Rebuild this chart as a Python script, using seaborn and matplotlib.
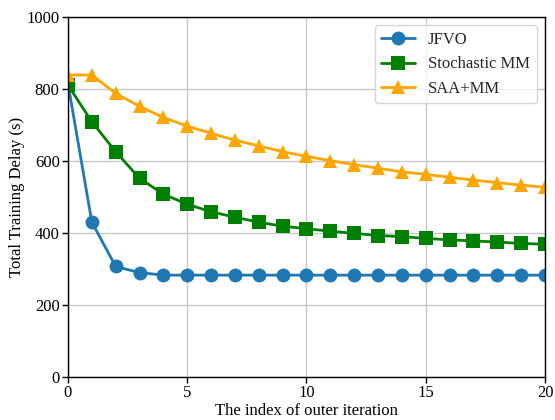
import matplotlib
matplotlib.use("Agg")
import matplotlib.pyplot as plt
import seaborn as sns
import pandas as pd

iterations = list(range(21))
jfvo = [815, 430, 307, 290, 283, 283, 283, 283, 283, 283, 283, 283, 283, 283, 283, 283, 283, 283, 283, 283, 283]
stochastic_mm = [811, 709, 626, 552, 508, 480, 459, 444, 430, 419, 412, 405, 399, 393, 390, 385, 381, 378, 375, 371, 369]
saa_mm = [839, 839, 788, 752, 721, 697, 677, 658, 642, 626, 613, 601, 590, 580, 570, 563, 555, 547, 540, 533, 527]
labels = ["JFVO", "Stochastic MM", "SAA+MM"]
colors = ["#1f77b4", "green", "orange"]
markers = ["o", "s", "^"]

sns.set_theme(style="ticks")
plt.rcParams["font.family"] = ["Liberation Serif", "DejaVu Serif"]

fig = plt.figure(figsize=(5.55, 4.2), dpi=100)
ax = fig.add_axes([0.1225, 0.1024, 0.8595, 0.857])

for lab, vals, c, m in zip(labels, [jfvo, stochastic_mm, saa_mm], colors, markers):
    df = pd.DataFrame({"x": iterations, "y": vals})
    sns.lineplot(data=df, x="x", y="y", ax=ax, color=c, marker=m, markersize=10,
                 markeredgewidth=0, linewidth=2, label=lab)

ax.set_xlim(0, 20)
ax.set_ylim(0, 1000)
ax.set_xticks([0, 5, 10, 15, 20])
ax.set_yticks([0, 200, 400, 600, 800, 1000])
ax.grid(True, color="#c8c8c8", linewidth=1)
ax.set_axisbelow(True)
for s in ax.spines.values():
    s.set_color("black")
    s.set_linewidth(1)
ax.tick_params(labelsize=12, color="black", labelcolor="black", length=4, width=1, pad=2)
ax.set_xlabel("The index of outer iteration", fontsize=12, color="black", labelpad=1)
ax.set_ylabel("Total Training Delay (s)", fontsize=12, color="black", labelpad=1)
leg = ax.legend(loc="upper right", fontsize=12, frameon=True, fancybox=True,
                edgecolor="#cccccc", framealpha=0.8, handlelength=2.0, borderpad=0.4)
fig.savefig("out.png", dpi=100)
